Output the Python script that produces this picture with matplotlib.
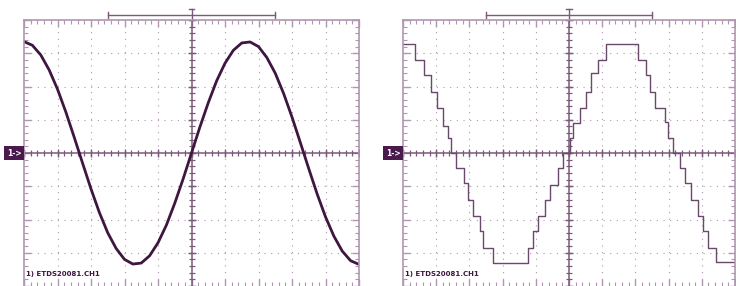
import numpy as np
import matplotlib
matplotlib.use('Agg')
import matplotlib.pyplot as plt
from matplotlib.ticker import MultipleLocator

# left trace: analog sine (divisions)
sine_t = [-5.0, -4.75, -4.5, -4.25, -4.0, -3.75, -3.5, -3.25, -3.0, -2.75,
          -2.5, -2.25, -2.0, -1.75, -1.5, -1.25, -1.0, -0.75, -0.5, -0.25,
          0.0, 0.25, 0.5, 0.75, 1.0, 1.25, 1.5, 1.75, 2.0, 2.25,
          2.5, 2.75, 3.0, 3.25, 3.5, 3.75, 4.0, 4.25, 4.5, 4.75, 5.0]
sine_v = [3.35, 3.24, 2.95, 2.50, 1.92, 1.23, 0.47, -0.31, -1.08, -1.79,
          -2.40, -2.87, -3.20, -3.34, -3.31, -3.09, -2.70, -2.17, -1.51, -0.78,
          0.0, 0.78, 1.51, 2.17, 2.70, 3.09, 3.31, 3.34, 3.20, 2.87,
          2.40, 1.79, 1.08, 0.31, -0.47, -1.23, -1.92, -2.50, -2.95, -3.24, -3.35]

# right trace: quantized (stair) version, step edges and levels
step_t = [-5.0, -4.64, -4.37, -4.16, -3.98, -3.80, -3.64, -3.55, -3.40, -3.16,
          -3.04, -2.89, -2.68, -2.59, -2.29, -1.23, -1.08, -0.93, -0.72, -0.57,
          -0.33, -0.18, 0.03, 0.12, 0.33, 0.51, 0.66, 0.87, 1.11, 2.08,
          2.32, 2.44, 2.59, 2.89, 2.98, 3.13, 3.34, 3.49, 3.67, 3.89,
          4.04, 4.19, 4.43, 5.0]
step_v = [3.27, 2.8, 2.36, 1.85, 1.36, 0.8, 0.45, 0.0, -0.45, -0.9,
          -1.4, -1.9, -2.36, -2.85, -3.3, -2.85, -2.36, -1.9, -1.4, -0.95,
          -0.45, 0.0, 0.45, 0.9, 1.36, 1.85, 2.4, 2.8, 3.27, 2.8,
          2.36, 1.85, 1.36, 0.94, 0.45, 0.0, -0.45, -0.9, -1.4, -1.9,
          -2.36, -2.85, -3.27, -3.27]

label = '1) ETDS20081.CH1'
grid_c = '#b096b0'
axis_c = '#7a5a7a'
dark = '#3e1640'

fig = plt.figure(figsize=(7.36, 2.86), dpi=100)
fig.patch.set_facecolor('white')


def scope(ax):
    ax.set_xlim(-5, 5)
    ax.set_ylim(-4, 4)
    for s in ['top', 'left', 'right']:
        ax.spines[s].set_color(grid_c)
        ax.spines[s].set_linewidth(1.2)
    ax.spines['bottom'].set_visible(False)
    ax.xaxis.set_major_locator(MultipleLocator(1))
    ax.xaxis.set_minor_locator(MultipleLocator(0.2))
    ax.yaxis.set_major_locator(MultipleLocator(1))
    ax.yaxis.set_minor_locator(MultipleLocator(0.2))
    ax.tick_params(which='both', direction='in', top=True, bottom=True,
                   left=True, right=True, labelbottom=False, labelleft=False,
                   color=grid_c)
    ax.tick_params(which='major', length=5, width=1)
    ax.tick_params(which='minor', length=3, width=0.8)
    for g in [-4, -3, -2, -1, 1, 2, 3, 4]:
        ax.axvline(g, color=grid_c, lw=0.8, ls=(0, (1, 5)))
    for g in [-3, -2, -1, 1, 2, 3]:
        ax.axhline(g, color=grid_c, lw=0.8, ls=(0, (1, 5)))
    ax.axhline(0, color=axis_c, lw=1.1)
    ax.axvline(0, color=axis_c, lw=1.1)
    mx = np.arange(-5, 5.01, 0.2)
    my = np.arange(-4, 4.01, 0.2)
    ax.plot(mx, np.zeros_like(mx), ls='none', marker='|', ms=4, mew=0.9, color=axis_c)
    ax.plot(np.zeros_like(my), my, ls='none', marker='_', ms=4, mew=0.9, color=axis_c)
    ax.plot(np.arange(-5, 6), np.zeros(11), ls='none', marker='|', ms=6, mew=1, color=axis_c)
    ax.plot(np.zeros(9), np.arange(-4, 5), ls='none', marker='_', ms=6, mew=1, color=axis_c)
    # time bracket and trigger mark above the screen
    kw = dict(color=axis_c, lw=1, clip_on=False)
    ax.plot([-2.5, 2.5], [4.15, 4.15], **kw)
    ax.plot([-2.5, -2.5], [4.05, 4.25], **kw)
    ax.plot([2.5, 2.5], [4.05, 4.25], **kw)
    ax.plot([0, 0], [4.0, 4.32], **kw)
    ax.plot([-0.08, 0.08], [4.32, 4.32], **kw)
    ax.text(-5.08, 0, '1->', ha='right', va='center', color='white',
            fontsize=5.5, fontweight='bold', clip_on=False,
            bbox=dict(boxstyle='square,pad=0.3', fc='#4a1a4c', ec='none'))
    ax.text(-4.95, -3.65, label, ha='left', va='center', color=dark,
            fontsize=5, fontweight='bold',
            bbox=dict(boxstyle='square,pad=0.1', fc='white', ec='none'))


ax1 = fig.add_axes([24 / 736, 0.0, 335 / 736, 0.930])
scope(ax1)
ax1.plot(sine_t, sine_v, color=dark, lw=2.0, solid_joinstyle='round',
         solid_capstyle='round')

ax2 = fig.add_axes([403 / 736, 0.0, 332 / 736, 0.930])
scope(ax2)
ax2.step(step_t, step_v, where='post', color='#6a4a6a', lw=1.0)

fig.savefig('out.png', dpi=100)
